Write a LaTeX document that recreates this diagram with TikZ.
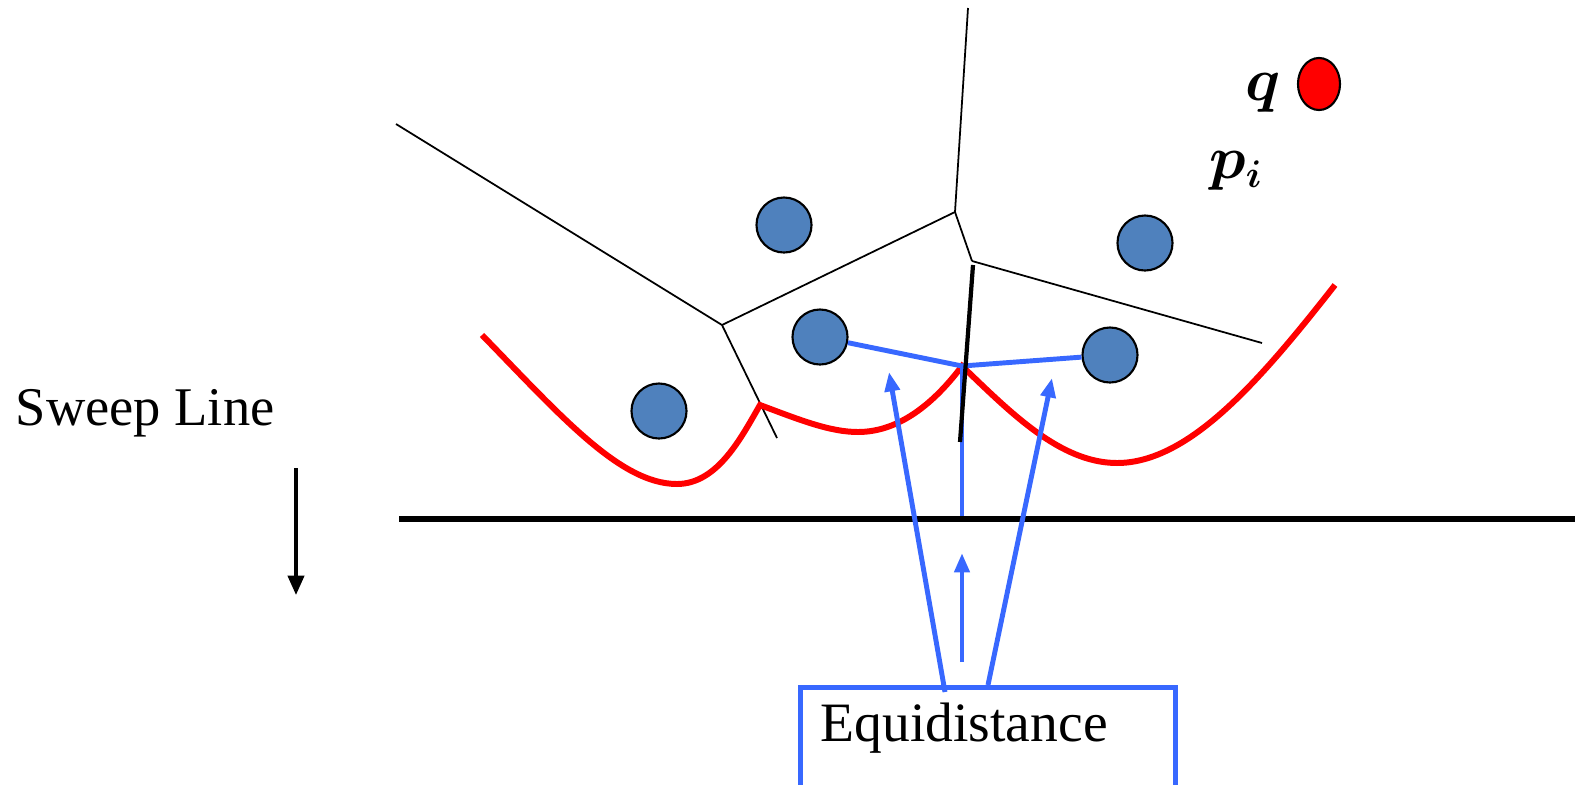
\documentclass[tikz,border=0pt]{standalone}
\usepackage{amsmath}
\usepackage{fontspec}
\setmainfont{Liberation Serif}
\usetikzlibrary{arrows.meta,shapes.geometric}
\definecolor{sitefill}{RGB}{79,129,189}
\definecolor{eqblue}{RGB}{56,104,255}
\begin{document}
\begin{tikzpicture}[x=0.01cm,y=-0.01cm,
    site/.style={circle,draw=black,line width=0.6pt,fill=sitefill,minimum size=0.55cm,inner sep=0pt},
    cell/.style={line width=0.5pt},
    beach/.style={red,line width=1.7pt},
    eqline/.style={eqblue,line width=1.4pt},
    eqarrow/.style={eqblue,line width=1.4pt,-{Triangle[length=5.5pt,width=4.2pt]}}]
    \useasboundingbox (0,0) rectangle (1575,784);
    % sites
    \node[site] (s1) at (784,225) {};
    \node[site] (s2) at (1145,243) {};
    \node[site] (s3) at (820,337) {};
    \node[site] (s4) at (1110,355) {};
    \node[site] (s5) at (659,411) {};
    \node[ellipse,draw=black,line width=0.6pt,fill=red,minimum width=0.42cm,minimum height=0.52cm,inner sep=0pt] (q) at (1319,84) {};
    \node[anchor=base,font=\fontsize{16}{18}\selectfont] (qlab) at (1263,100) {$\boldsymbol{q}$};
    \node[anchor=base west,font=\fontsize{16}{18}\selectfont] (plab) at (1197,178) {$\boldsymbol{p_i}$};
    % voronoi edges
    \coordinate (v1) at (722,325);\coordinate (v2) at (955,212);
    \coordinate (v3) at (972,261);
    \coordinate (e1) at (396,124);\coordinate (e2) at (968,8);
    \coordinate (e3) at (1262,343);\coordinate (e4) at (777,438);
    \draw[cell] (e1) -- (v1);\draw[cell] (v1) -- (v2);
    \draw[cell] (e2) -- (v2);\draw[cell] (v2) -- (v3);
    \draw[cell] (v3) -- (e3);\draw[cell] (v1) -- (e4);
    % beach line
    \coordinate (c1) at (760,405);\coordinate (c2) at (962,366);
    \draw[beach,line join=miter] (482,335) .. controls (560,415) and (620,484) .. (677,484)
        .. controls (718,484) and (742,436) .. (c1)
        .. controls (800,420) and (830,432) .. (858,432)
        .. controls (900,432) and (935,402) .. (c2)
        .. controls (1010,412) and (1060,463) .. (1117,463)
        .. controls (1190,463) and (1262,378) .. (1335,285);
    % equal distances
    \draw[eqline] (s3) -- (c2);\draw[eqline] (c2) -- (s4);
    \coordinate (sb) at (962,518);
    \draw[eqline] (sb) -- (c2);
    % growing edge
    \coordinate (t1) at (973,265);\coordinate (t2) at (960,442);
    \draw[line width=1.2pt] (t1) -- (t2);
    % sweep line
    \coordinate (sl) at (399,519);\coordinate (sr) at (1575,519);
    \draw[line width=1.6pt] (sl) -- (sr);
    \node[anchor=base west,inner sep=0pt,font=\fontsize{15.5}{18}\selectfont] (sweep) at (15,425) {Sweep Line};
    \coordinate (d1) at (296,468);\coordinate (d2) at (296,595);
    \draw[line width=1pt,-{Triangle[length=5.5pt,width=4.6pt]}] (d1) -- (d2);
    % box
    \node[draw=eqblue,line width=1.4pt,anchor=north west,minimum width=3.75cm,minimum height=1.3cm] (eqbox) at (798,685) {};
    \node[anchor=base west,inner sep=0pt,font=\fontsize{15.8}{18}\selectfont] (eqtext) at (820,741) {Equidistance};
    \coordinate (a1) at (945,692);\coordinate (b1) at (889,372);
    \coordinate (a2) at (962,662);\coordinate (b2) at (962,553);
    \coordinate (a3) at (988,685);\coordinate (b3) at (1052,378);
    \draw[eqarrow] (a1) -- (b1);
    \draw[eqarrow] (a2) -- (b2);
    \draw[eqarrow] (a3) -- (b3);
\end{tikzpicture}
\end{document}
